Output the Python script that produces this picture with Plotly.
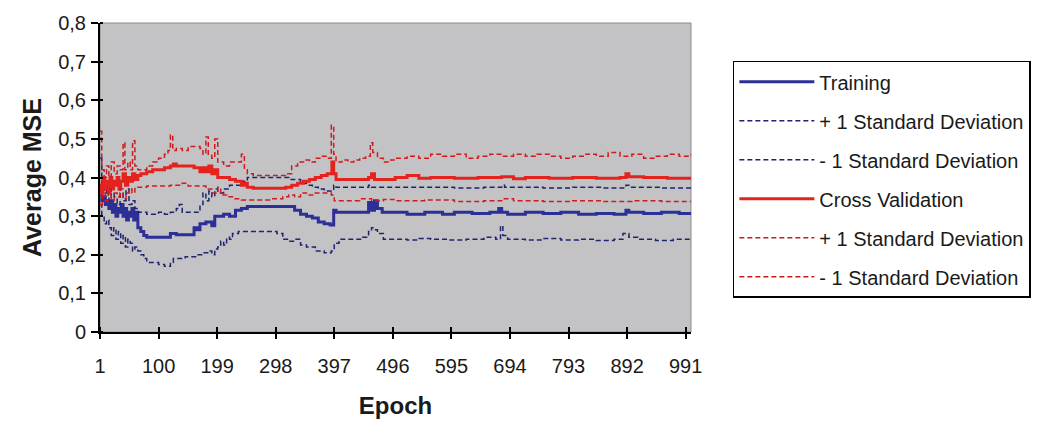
import plotly.graph_objects as go

# ---------------- data ----------------
tr_x = [1, 4, 7, 10, 13, 16, 19, 22, 25, 28, 31, 34, 37, 40, 43, 46, 49, 52, 55, 58, 61, 65, 70, 75, 80, 90, 100,
        110, 120, 130, 140, 150, 160, 165, 170, 180, 190, 195, 200, 210, 220, 230, 240, 250, 260, 280, 300, 320,
        330, 340, 350, 360, 370, 380, 390, 396, 400, 420, 440, 455, 460, 465, 470, 478, 500, 520, 550, 580, 600,
        630, 660, 675, 680, 690, 720, 750, 780, 810, 840, 870, 890, 895, 920, 950, 980, 1000]
tr_y = [0.36, 0.34, 0.35, 0.33, 0.34, 0.32, 0.34, 0.31, 0.33, 0.30, 0.32, 0.31, 0.33, 0.30, 0.32, 0.29, 0.31, 0.30,
        0.32, 0.29, 0.31, 0.27, 0.26, 0.25, 0.245, 0.245, 0.245, 0.245, 0.255, 0.252, 0.252, 0.252, 0.27, 0.265,
        0.28, 0.285, 0.275, 0.30, 0.30, 0.305, 0.30, 0.315, 0.32, 0.325, 0.325, 0.325, 0.325, 0.325, 0.315, 0.305,
        0.30, 0.295, 0.285, 0.28, 0.277, 0.315, 0.31, 0.31, 0.31, 0.335, 0.315, 0.34, 0.32, 0.31, 0.31, 0.305,
        0.31, 0.305, 0.31, 0.307, 0.31, 0.32, 0.31, 0.305, 0.31, 0.307, 0.31, 0.305, 0.307, 0.305, 0.315, 0.31,
        0.307, 0.31, 0.307, 0.31]

tr_up_x = [1, 4, 8, 12, 16, 20, 25, 30, 35, 40, 45, 50, 55, 60, 65, 70, 80, 90, 100, 110, 120, 130, 135, 140, 150,
           160, 170, 175, 180, 185, 190, 195, 200, 210, 220, 230, 240, 250, 270, 300, 320, 340, 350, 360, 370, 380,
           390, 396, 400, 450, 455, 460, 500, 550, 600, 650, 680, 685, 700, 750, 800, 850, 890, 895, 950, 1000]
tr_up_y = [0.45, 0.38, 0.36, 0.37, 0.34, 0.37, 0.35, 0.33, 0.36, 0.34, 0.37, 0.33, 0.34, 0.32, 0.31, 0.31, 0.305,
           0.305, 0.31, 0.305, 0.31, 0.32, 0.33, 0.31, 0.31, 0.31, 0.33, 0.36, 0.34, 0.365, 0.35, 0.37, 0.36, 0.37,
           0.38, 0.38, 0.39, 0.40, 0.40, 0.40, 0.395, 0.385, 0.38, 0.375, 0.37, 0.365, 0.365, 0.38, 0.375, 0.375,
           0.38, 0.375, 0.375, 0.375, 0.373, 0.375, 0.38, 0.375, 0.375, 0.373, 0.375, 0.373, 0.38, 0.375, 0.373,
           0.373]

tr_lo_x = [1, 4, 8, 12, 16, 20, 24, 28, 32, 36, 40, 44, 48, 52, 56, 60, 65, 70, 75, 80, 90, 100, 110, 115, 120,
           125, 135, 145, 155, 165, 175, 185, 190, 195, 200, 205, 210, 215, 220, 225, 235, 260, 290, 300, 310, 320,
           330, 340, 350, 365, 380, 392, 397, 405, 430, 445, 455, 460, 465, 470, 480, 500, 520, 540, 560, 590, 620,
           650, 670, 678, 682, 690, 720, 750, 780, 810, 840, 870, 885, 895, 910, 940, 970, 1000]
tr_lo_y = [0.33, 0.30, 0.28, 0.29, 0.27, 0.25, 0.27, 0.24, 0.26, 0.23, 0.25, 0.22, 0.24, 0.23, 0.21, 0.22, 0.21,
           0.20, 0.19, 0.18, 0.18, 0.175, 0.17, 0.17, 0.18, 0.19, 0.19, 0.195, 0.195, 0.20, 0.205, 0.21, 0.20,
           0.215, 0.22, 0.235, 0.225, 0.245, 0.24, 0.255, 0.26, 0.26, 0.26, 0.255, 0.24, 0.235, 0.24, 0.225, 0.22,
           0.21, 0.205, 0.21, 0.23, 0.24, 0.24, 0.245, 0.26, 0.27, 0.265, 0.255, 0.24, 0.24, 0.238, 0.242, 0.24,
           0.238, 0.24, 0.245, 0.24, 0.275, 0.25, 0.24, 0.238, 0.242, 0.238, 0.24, 0.237, 0.24, 0.255, 0.245, 0.24,
           0.237, 0.24, 0.235]

cv_x = [1, 3, 6, 9, 12, 15, 18, 21, 24, 27, 30, 33, 36, 40, 44, 48, 52, 56, 60, 65, 70, 80, 90, 100, 110, 120,
        125, 130, 140, 150, 160, 170, 175, 180, 185, 190, 195, 200, 210, 220, 230, 240, 245, 250, 260, 280, 300,
        315, 325, 335, 345, 355, 365, 375, 385, 393, 396, 400, 420, 440, 455, 460, 465, 480, 500, 520, 540, 560,
        600, 640, 680, 700, 720, 760, 800, 840, 880, 890, 895, 920, 960, 1000]
cv_y = [0.38, 0.36, 0.40, 0.37, 0.39, 0.36, 0.40, 0.37, 0.39, 0.38, 0.40, 0.37, 0.39, 0.41, 0.38, 0.40, 0.39,
        0.41, 0.395, 0.405, 0.41, 0.415, 0.42, 0.42, 0.425, 0.43, 0.435, 0.43, 0.43, 0.43, 0.425, 0.415, 0.425,
        0.415, 0.43, 0.41, 0.42, 0.40, 0.40, 0.395, 0.39, 0.38, 0.385, 0.375, 0.372, 0.372, 0.372, 0.375, 0.38,
        0.385, 0.39, 0.395, 0.40, 0.405, 0.41, 0.44, 0.41, 0.395, 0.395, 0.395, 0.40, 0.41, 0.395, 0.395, 0.40,
        0.405, 0.398, 0.40, 0.398, 0.40, 0.402, 0.397, 0.40, 0.398, 0.40, 0.398, 0.40, 0.41, 0.402, 0.40, 0.398,
        0.398]

cv_up_x = [1, 4, 8, 12, 16, 20, 25, 30, 35, 40, 43, 48, 52, 56, 60, 65, 70, 80, 90, 100, 110, 116, 120, 124, 130,
           140, 150, 160, 170, 175, 180, 184, 190, 195, 200, 210, 220, 230, 240, 245, 250, 260, 280, 300, 315, 325,
           335, 345, 355, 365, 375, 385, 392, 396, 400, 410, 420, 430, 440, 450, 458, 462, 470, 480, 490, 500, 520,
           540, 560, 580, 600, 620, 640, 660, 680, 700, 720, 740, 760, 780, 800, 820, 840, 860, 880, 900, 920, 940,
           960, 980, 1000]
cv_up_y = [0.52, 0.42, 0.40, 0.43, 0.40, 0.44, 0.41, 0.43, 0.42, 0.49, 0.42, 0.44, 0.42, 0.495, 0.43, 0.42, 0.42,
           0.43, 0.44, 0.45, 0.46, 0.47, 0.51, 0.47, 0.475, 0.47, 0.48, 0.48, 0.475, 0.46, 0.505, 0.46, 0.45, 0.50,
           0.44, 0.43, 0.44, 0.44, 0.46, 0.42, 0.41, 0.405, 0.405, 0.405, 0.41, 0.43, 0.44, 0.445, 0.44, 0.45,
           0.455, 0.45, 0.535, 0.46, 0.44, 0.445, 0.44, 0.445, 0.45, 0.455, 0.49, 0.465, 0.45, 0.44, 0.445, 0.45,
           0.455, 0.45, 0.46, 0.455, 0.46, 0.45, 0.455, 0.46, 0.455, 0.46, 0.455, 0.46, 0.455, 0.45, 0.455, 0.46,
           0.455, 0.465, 0.455, 0.46, 0.45, 0.455, 0.46, 0.455, 0.46]

cv_lo_x = [1, 5, 10, 15, 20, 25, 30, 35, 40, 45, 50, 55, 60, 70, 80, 100, 120, 140, 150, 170, 180, 190, 200, 205,
           215, 225, 240, 260, 290, 310, 320, 330, 340, 350, 365, 380, 392, 397, 420, 440, 460, 480, 500, 550, 600,
           650, 680, 700, 750, 800, 850, 900, 950, 1000]
cv_lo_y = [0.33, 0.36, 0.34, 0.37, 0.34, 0.36, 0.35, 0.37, 0.345, 0.36, 0.37, 0.36, 0.375, 0.375, 0.378, 0.378,
           0.38, 0.385, 0.378, 0.378, 0.37, 0.36, 0.375, 0.355, 0.35, 0.345, 0.342, 0.342, 0.345, 0.35, 0.355, 0.35,
           0.36, 0.355, 0.36, 0.36, 0.355, 0.34, 0.34, 0.345, 0.34, 0.343, 0.34, 0.342, 0.338, 0.34, 0.345, 0.34,
           0.338, 0.34, 0.338, 0.34, 0.338, 0.338]

x_ticks = [1, 100, 199, 298, 397, 496, 595, 694, 793, 892, 991]
y_ticks = [0, 0.1, 0.2, 0.3, 0.4, 0.5, 0.6, 0.7, 0.8]
y_tick_text = ["0", "0,1", "0,2", "0,3", "0,4", "0,5", "0,6", "0,7", "0,8"]

series = [
    ("Training", tr_x, tr_y, "#2B2F96", 3, "solid"),
    ("+ 1 Standard Deviation", tr_up_x, tr_up_y, "#1E2470", 1.5, "5px,3px"),
    ("- 1 Standard Deviation", tr_lo_x, tr_lo_y, "#1E2470", 1.5, "5px,3px"),
    ("Cross Validation", cv_x, cv_y, "#E4231F", 3, "solid"),
    ("+ 1 Standard Deviation", cv_up_x, cv_up_y, "#CF1B1E", 1.5, "5px,3px"),
    ("- 1 Standard Deviation", cv_lo_x, cv_lo_y, "#CF1B1E", 1.5, "5px,3px"),
]

FONT = "Arial, 'Liberation Sans', sans-serif"

fig = go.Figure()
for i, (name, xs, ys, col, w, dash) in enumerate(series):
    fig.add_trace(go.Scatter(
        x=xs, y=ys, name=name, mode="lines", line_shape="hv",
        line=dict(color=col, width=w, dash=dash),
        legendgroup=f"g{i}", legendrank=i + 1,
        hoverinfo="x+y",
    ))

fig.update_layout(
    width=1042, height=422,
    margin=dict(l=100, r=350, t=23, b=90),
    paper_bgcolor="white",
    plot_bgcolor="#C3C3C5",
    font=dict(family=FONT, size=20, color="#1a1a1a"),
    showlegend=True,
    legend=dict(
        x=1.069, y=0.878, xanchor="left", yanchor="top",
        bgcolor="white", bordercolor="black", borderwidth=1.5,
        font=dict(family=FONT, size=20, color="#1a1a1a"),
        tracegroupgap=10, itemwidth=75,
        traceorder="grouped",
    ),
    xaxis=dict(
        range=[1, 1000], tickvals=x_ticks, ticktext=[str(v) for v in x_ticks],
        showgrid=False, zeroline=False,
        showline=True, linecolor="black", linewidth=2,
        ticks="outside", ticklen=5, tickwidth=2, tickcolor="black",
        minor=dict(tickmode="array", tickvals=x_ticks, ticks="inside", ticklen=5,
                   tickwidth=2, tickcolor="black", showgrid=False),
        tickfont=dict(size=20),
        ticklabelstandoff=10,
        automargin=False,
        title=dict(text="<b>Epoch</b>", font=dict(size=24), standoff=21),
    ),
    yaxis=dict(
        range=[0, 0.8], tickvals=y_ticks, ticktext=y_tick_text,
        showgrid=False, zeroline=False,
        showline=True, linecolor="black", linewidth=2,
        ticks="outside", ticklen=7, tickwidth=2, tickcolor="black",
        minor=dict(tickmode="array", tickvals=y_ticks, ticks="inside", ticklen=3,
                   tickwidth=2, tickcolor="black", showgrid=False),
        tickfont=dict(size=20),
        ticklabelstandoff=1,
        automargin=False,
        title=dict(text="<b>Average MSE</b>", font=dict(size=25), standoff=9),
    ),
    shapes=[dict(type="rect", xref="paper", yref="paper", x0=0, x1=1, y0=0, y1=1,
                 line=dict(color="#8A8A8A", width=1), layer="below")],
)

fig.write_html("out.html")
